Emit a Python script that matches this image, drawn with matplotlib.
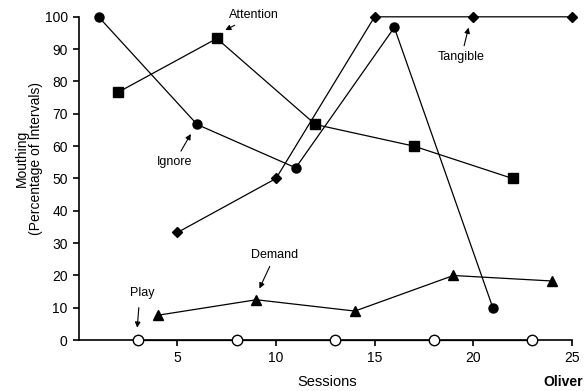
import matplotlib.pyplot as plt

plt.rcParams['font.family'] = ['Liberation Sans', 'DejaVu Sans']

# session numbers and percentage of intervals with mouthing
ignore_x = [1, 6, 11, 16, 21]
ignore_y = [100, 66.7, 53.3, 96.7, 10]
attention_x = [2, 7, 12, 17, 22]
attention_y = [76.7, 93.3, 66.7, 60, 50]
play_x = [3, 8, 13, 18, 23]
play_y = [0, 0, 0, 0, 0]
demand_x = [4, 9, 14, 19, 24]
demand_y = [7.7, 12.5, 9, 20, 18.3]
tangible_x = [5, 10, 15, 20, 25]
tangible_y = [33.3, 50, 100, 100, 100]

fig = plt.figure(figsize=(5.84, 3.91), dpi=100)
ax = fig.add_axes([0.135, 0.13, 0.844, 0.827])

lw = 0.9
ax.plot(ignore_x, ignore_y, 'k-', marker='o', ms=6.5, lw=lw, clip_on=False, zorder=3)
ax.plot(attention_x, attention_y, 'k-', marker='s', ms=6.5, lw=lw, clip_on=False, zorder=3)
ax.plot(tangible_x, tangible_y, 'k-', marker='D', ms=5, lw=lw, clip_on=False, zorder=3)
ax.plot(demand_x, demand_y, 'k-', marker='^', ms=6.5, lw=lw, clip_on=False, zorder=3)
ax.plot(play_x, play_y, 'k-', marker='o', ms=7.5, mfc='white', mec='black', mew=1,
        lw=lw, clip_on=False, zorder=4)

ax.set_xlim(0, 25)
ax.set_ylim(0, 100)
ax.set_xticks([5, 10, 15, 20, 25])
ax.set_yticks(range(0, 101, 10))
ax.spines['top'].set_visible(False)
ax.spines['right'].set_visible(False)
ax.spines['left'].set_linewidth(1.2)
ax.spines['bottom'].set_linewidth(1.2)
ax.tick_params(direction='out', length=4, width=1.2, labelsize=10, pad=4)

ax.set_ylabel('Mouthing\n(Percentage of Intervals)', fontsize=10, linespacing=1.05)
ax.yaxis.set_label_coords(-0.072, 0.563)
ax.set_xlabel('Sessions', fontsize=10.5)
ax.xaxis.set_label_coords(0.503, -0.108)
fig.text(0.999, 0.023, 'Oliver', fontsize=10, fontweight='bold', ha='right', va='center')

arrow = dict(arrowstyle='-|>', color='black', lw=0.8, mutation_scale=8)
ax.annotate('Attention', xy=(7.3, 95.5), xytext=(8.9, 100.5), fontsize=9,
            ha='center', va='center', arrowprops=arrow, annotation_clip=False)
ax.annotate('Ignore', xy=(5.75, 64.5), xytext=(4.85, 55), fontsize=9,
            ha='center', va='center', arrowprops=arrow)
ax.annotate('Tangible', xy=(19.8, 97.5), xytext=(19.4, 87.5), fontsize=9,
            ha='center', va='center', arrowprops=arrow)
ax.annotate('Demand', xy=(9.1, 15.2), xytext=(9.95, 26.3), fontsize=9,
            ha='center', va='center', arrowprops=arrow)
ax.annotate('Play', xy=(2.95, 3), xytext=(3.2, 14.5), fontsize=9,
            ha='center', va='center',
            arrowprops=dict(arrowstyle='-|>', color='black', lw=0.8, mutation_scale=8,
                            shrinkA=4, relpos=(0.4, 0)))

fig.savefig('out.png', dpi=100)
